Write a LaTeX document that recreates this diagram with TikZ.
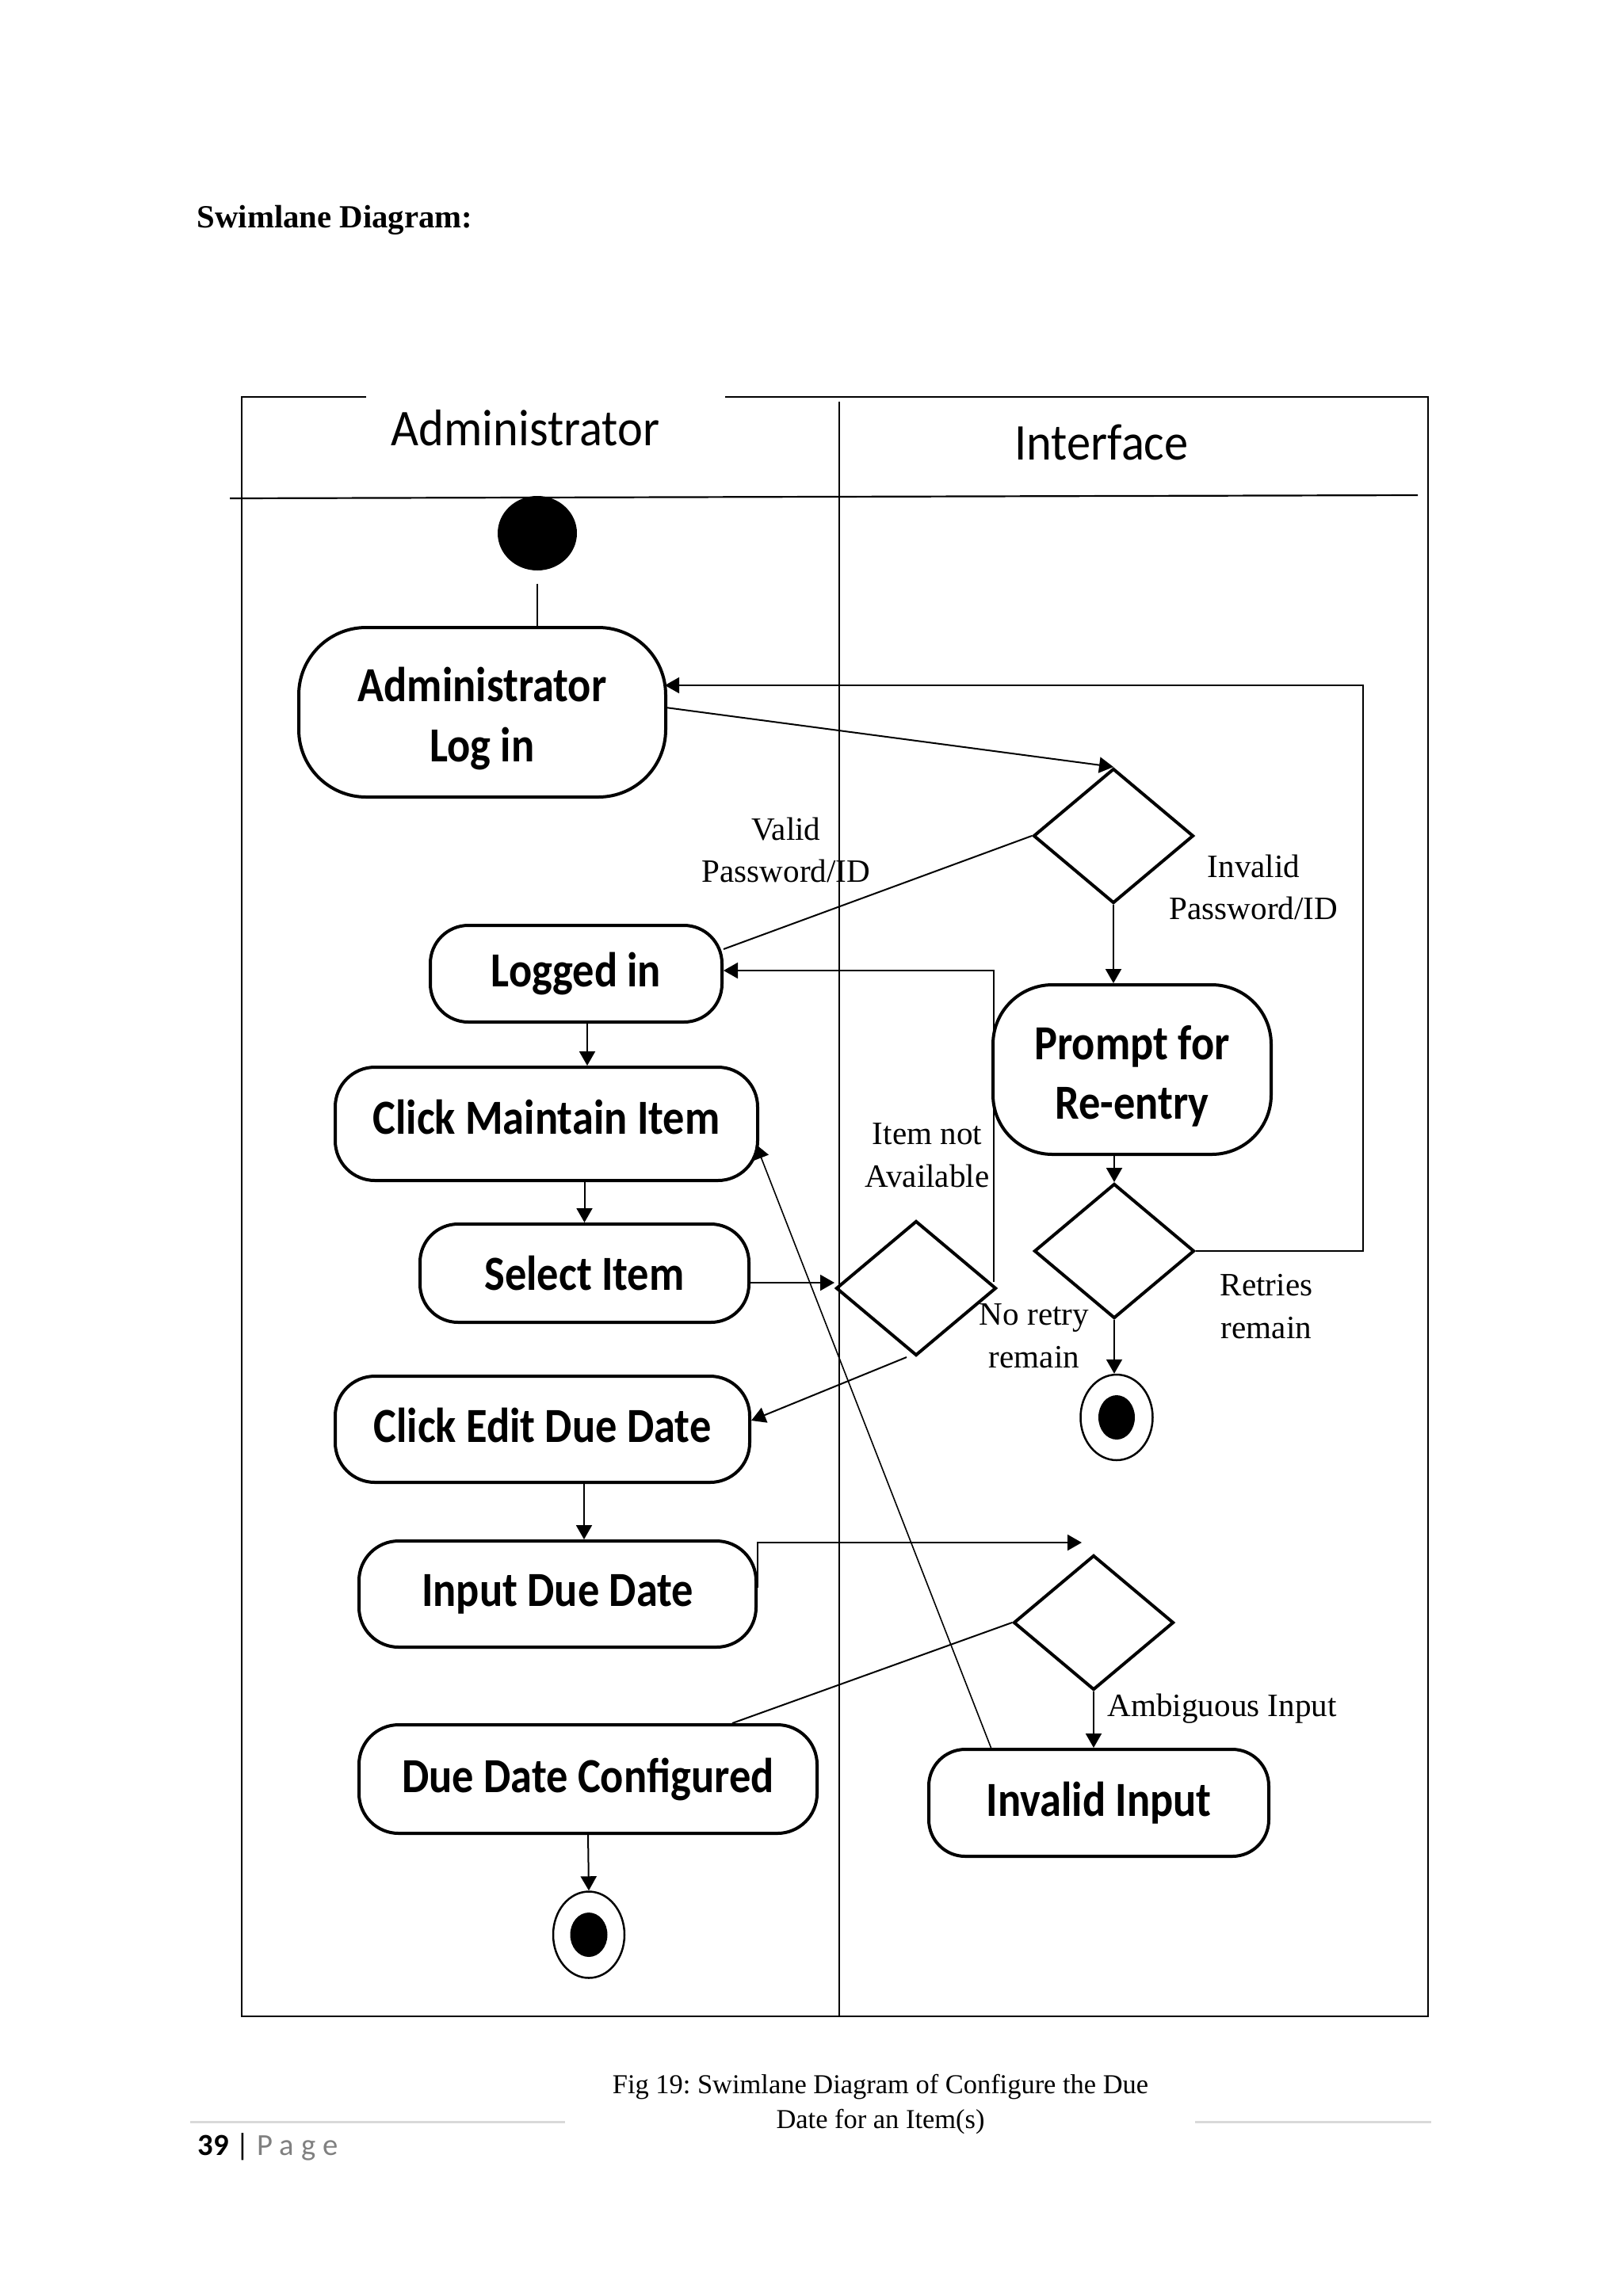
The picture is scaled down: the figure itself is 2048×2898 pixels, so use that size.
\documentclass[tikz,border=0pt]{standalone}
\usepackage{fontspec}
\setmainfont{Liberation Serif}
\newfontfamily\boxfont[FakeStretch=0.88]{Carlito}
\newfontfamily\hdfont[FakeStretch=0.93]{Carlito}
\newfontfamily\pgfont{Carlito}
\usetikzlibrary{shapes.geometric,arrows.meta,calc}
\frenchspacing
\begin{document}
\begin{tikzpicture}[x=0.1mm,y=-0.1mm,
  actbox/.style={draw, line width=0.4mm, rounded corners=#1, align=center, inner sep=0pt,
    font={\boxfont\bfseries\fontsize{17.6pt}{21.5pt}\selectfont}},
  dec/.style={diamond, draw, line width=0.4mm, minimum width=20.2mm, minimum height=17mm, inner sep=0pt},
  frameline/.style={line width=0.22mm},
  conn/.style={line width=0.2mm},
  thinconn/.style={line width=0.16mm},
  flow/.style={line width=0.2mm, -{Triangle[length=1.8mm,width=2mm]}},
  thinflow/.style={line width=0.16mm, -{Triangle[length=1.8mm,width=2mm]}},
  lbl/.style={align=center, inner sep=0pt, font={\fontsize{11.7pt}{15.3pt}\selectfont}},
  hdr/.style={inner sep=0pt, font={\hdfont\fontsize{18.5pt}{22pt}\selectfont}}
]
\useasboundingbox (0,0) rectangle (2048,2898);

% title
\node[anchor=base west, inner sep=0pt, font={\bfseries\fontsize{11.6pt}{14pt}\selectfont}] (title) at (248,287) {Swimlane Diagram:};

% swimlane frame
\draw[frameline] (462,501) -- (305,501) -- (305,2545) -- (1802,2545) -- (1802,501) -- (915,501);
\draw[frameline] (290,629) -- (1789,625);
\draw[line width=0.18mm] (1059,507) -- (1059,2545);
\node[hdr] (hadmin) at (663,540) {Administrator};
\node[hdr] (hintf) at (1390,558) {Interface};

% start
\node[ellipse, fill=black, minimum width=10mm, minimum height=9.4mm, inner sep=0pt] (start) at (678,673) {};

% activities
\node[actbox=8.5mm, minimum width=46.3mm, minimum height=21.4mm] (login) at (608.5,899) {\rule{0pt}{6mm}Administrator\\Log in};
\node[actbox=4.8mm, minimum width=36.8mm, minimum height=12.2mm] (loggedin) at (727,1229) {Logged in};
\node[actbox=5mm, minimum width=53.3mm, minimum height=14.3mm] (maintain) at (689.5,1418.5) {\rule[-1.7mm]{0pt}{1.7mm}Click Maintain Item};
\node[actbox=4.8mm, minimum width=41.5mm, minimum height=12.4mm] (select) at (737.5,1607) {Select Item};
\node[actbox=5mm, minimum width=52.3mm, minimum height=13.4mm] (edit) at (684.5,1804) {\rule[-1mm]{0pt}{1mm}Click Edit Due Date};
\node[actbox=5mm, minimum width=50.1mm, minimum height=13.4mm] (input) at (703.5,2012) {Input Due Date};
\node[actbox=5mm, minimum width=57.8mm, minimum height=13.7mm] (ddc) at (742,2245.5) {Due Date Configured};
\node[actbox=7.5mm, minimum width=35.1mm, minimum height=21.4mm] (prompt) at (1428.5,1350) {\rule{0pt}{6mm}Prompt for\\Re-entry};
\node[actbox=4.6mm, minimum width=42.9mm, minimum height=13.5mm] (invalid) at (1386.5,2275.5) {Invalid Input};

% decisions
\node[dec] (d1) at (1405,1055) {};
\node[dec] (d2) at (1406,1579) {};
\node[dec] (d3) at (1156,1626) {};
\node[dec] (d4) at (1380,2048) {};

% final states
\node[ellipse, draw, line width=0.25mm, minimum width=9.1mm, minimum height=10.8mm, inner sep=0pt] (end2) at (1409,1789) {};
\node[ellipse, fill=black, minimum width=4.6mm, minimum height=5.6mm, inner sep=0pt] (end2in) at (1409,1789) {};
\node[ellipse, draw, line width=0.25mm, minimum width=9mm, minimum height=10.9mm, inner sep=0pt] (end1) at (743,2442) {};
\node[ellipse, fill=black, minimum width=4.7mm, minimum height=5.6mm, inner sep=0pt] (end1in) at (743,2442) {};

% helper coordinates
\coordinate (la) at ($(loggedin.south)+(14,0)$);
\coordinate (ea) at ($(edit.south)+(52.5,0)$);
\coordinate (a4) at (1365,1947);
\coordinate (d3r) at ($(d3.east)+(-5,-8)$);

% connectors
\draw[conn, shorten <=1.6mm] (start.south) -- (start.south |- login.north);
\draw[flow] ($(login.east)+(-2,-6)$) -- (d1.north);
\draw[thinflow] (d2.east) -- ++(211,0) |- ($(login.east)+(-3,-34)$);
\draw[conn] (d1.west) -- ($(loggedin.east)+(0,-31)$);
\draw[flow] (d1.south) -- (d1.south |- prompt.north);
\draw[flow] (prompt.south -| d2.north) -- (d2.north);
\draw[flow] (d2.south) -- (d2.south |- end2.north);
\draw[flow] (la) -- (la |- maintain.north);
\draw[flow] (maintain.south -| select.north) -- (select.north);
\draw[flow] ($(d3.west -| select.east)+(0,-7)$) -- ($(d3.west)+(0,-7)$);
\draw[thinflow] (d3r) |- ($(loggedin.east)+(0,-4)$);
\draw[flow] ($(d3.south)+(-12,0)$) -- ($(edit.east)+(0,-11)$);
\draw[flow] (ea) -- (ea |- input.north);
\draw[flow] ($(input.east)+(0,-8)$) |- (a4);
\draw[conn] (d4.west) -- ($(ddc.north)+(182,0)$);
\draw[flow] (d4.south) -- (d4.south |- invalid.north);
\draw[thinflow] ($(invalid.north)+(-136,0)$) -- ($(maintain.east)+(-4,26)$);
\draw[flow] (ddc.south) -- (end1.north);

% guard labels
\node[lbl] (lvalid) at (992,1073) {Valid\\Password/ID};
\node[lbl] (linvalid) at (1582,1120) {Invalid\\Password/ID};
\node[lbl] (lnotavail) at (1170,1458) {Item not\\Available};
\node[lbl] (lretries) at (1598,1649) {Retries\\remain};
\node[lbl] (lnoretry) at (1305,1686) {No retry\\remain};
\node[lbl, anchor=base west] (lambig) at (1397,2166) {Ambiguous Input};

% caption and footer
\node[align=center, inner sep=0pt, font={\fontsize{9.8pt}{12.8pt}\selectfont}] (caption) at (1111,2656) {Fig 19: Swimlane Diagram of Configure the Due\\Date for an Item(s)};
\draw[gray!30, line width=0.3mm] (240,2678) -- (713,2678);
\draw[gray!30, line width=0.3mm] (1508,2678) -- (1806,2678);
\node[anchor=base west, inner sep=0pt, font={\pgfont\fontsize{11pt}{13pt}\selectfont}] (pageno) at (249,2720) {\textbf{39} | \textcolor{gray}{P a g e}};
\end{tikzpicture}
\end{document}
